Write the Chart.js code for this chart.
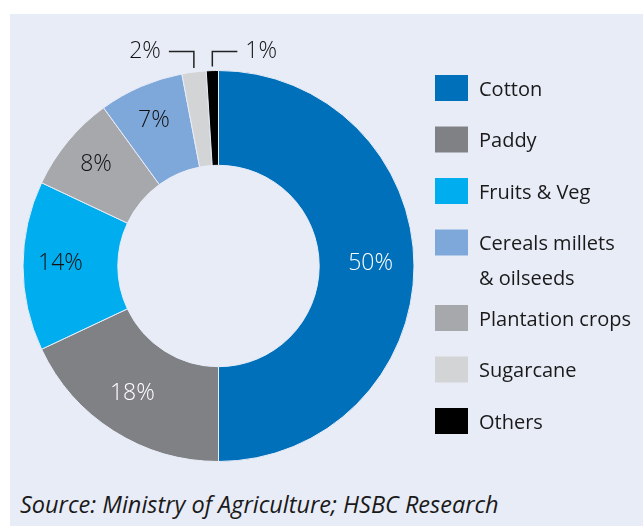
<!DOCTYPE html>
<html>
<head>
<meta charset="utf-8">
<script src="https://cdn.jsdelivr.net/npm/chart.js@4"></script>
<style>
  body { margin: 0; background: #fff; }
  #panel { position: absolute; left: 10px; top: 14px; width: 633px; height: 512px; background: #e8ecf7; }
  #wrap { position: absolute; left: 0; top: 0; width: 633px; height: 470px; }
  #source { position: absolute; left: 10px; top: 474px; font: italic 400 23.5px "Open Sans", sans-serif; color: #1a1a1a; }
</style>
</head>
<body>
<div id="panel">
  <div id="wrap"><canvas id="crops"></canvas></div>
  <div id="source">Source: Ministry of Agriculture; HSBC Research</div>
</div>
<script>
// slices, clockwise from 12 o'clock
const crops = ["Cotton", "Paddy", "Fruits & Veg", "Plantation crops", "Cereals millets & oilseeds", "Sugarcane", "Others"];
const shares = [50, 18, 14, 8, 7, 2, 1];
const colours = ["#0070ba", "#808184", "#00aeef", "#a7a8ab", "#7fa8da", "#d3d4d6", "#000000"];
const labelColours = ["#ffffff", "#ffffff", "#111111", "#111111", "#111111", "#111111", "#111111"];
// legend as printed
const legendOrder = ["Cotton", "Paddy", "Fruits & Veg", "Cereals millets & oilseeds", "Plantation crops", "Sugarcane", "Others"];
const legendText = [["Cotton"], ["Paddy"], ["Fruits & Veg"], ["Cereals millets", "& oilseeds"], ["Plantation crops"], ["Sugarcane"], ["Others"]];

const FONT = '"Open Sans", sans-serif';

const sliceLabels = {
  id: "sliceLabels",
  afterDatasetsDraw(chart) {
    const ctx = chart.ctx;
    const arcs = chart.getDatasetMeta(0).data;
    const small = arcs.map((a, i) => i).filter(i => shares[i] < 5);
    ctx.save();
    ctx.font = "300 23px " + FONT;
    ctx.textBaseline = "middle";
    arcs.forEach((arc, i) => {
      const p = arc.getProps(["x", "y", "startAngle", "endAngle", "innerRadius", "outerRadius"], true);
      const mid = (p.startAngle + p.endAngle) / 2;
      const text = shares[i] + "%";
      if (shares[i] >= 5) {
        const r = (p.innerRadius + p.outerRadius) / 2 + 7;
        ctx.fillStyle = labelColours[i];
        ctx.textAlign = "center";
        ctx.fillText(text, p.x + Math.cos(mid) * r - 3, p.y + Math.sin(mid) * r - 3);
      } else {
        const dir = i === small[small.length - 1] ? 1 : -1;
        const sx = p.x + Math.cos(mid) * (p.outerRadius + 1);
        const sy = p.y + Math.sin(mid) * (p.outerRadius + 1);
        const ty = p.y - p.outerRadius - 19;
        const ex = sx + dir * 25;
        ctx.strokeStyle = "#222";
        ctx.lineWidth = 1.5;
        ctx.beginPath();
        ctx.moveTo(sx, sy - 3);
        ctx.lineTo(sx, ty);
        ctx.lineTo(ex, ty);
        ctx.stroke();
        ctx.fillStyle = "#111";
        ctx.textAlign = dir > 0 ? "left" : "right";
        ctx.fillText(text, ex + dir * 8, ty);
      }
    });
    ctx.restore();
  }
};

const sideLegend = {
  id: "sideLegend",
  afterDraw(chart) {
    const ctx = chart.ctx;
    ctx.save();
    ctx.font = "20px " + FONT;
    ctx.textBaseline = "middle";
    ctx.textAlign = "left";
    let y = 74;
    legendOrder.forEach((name, k) => {
      const i = crops.indexOf(name);
      ctx.fillStyle = colours[i];
      ctx.fillRect(425, y - 13, 33, 26);
      ctx.fillStyle = "#1a1a1a";
      legendText[k].forEach((line, j) => ctx.fillText(line, 469, y + 2 + j * 35));
      y += 51.5 + (legendText[k].length - 1) * 24;
    });
    ctx.restore();
  }
};

new Chart(document.getElementById("crops"), {
  type: "doughnut",
  data: {
    labels: crops,
    datasets: [{
      data: shares,
      backgroundColor: colours,
      borderColor: "#e8ecf7",
      borderWidth: 1
    }]
  },
  options: {
    responsive: true,
    maintainAspectRatio: false,
    animation: false,
    cutout: "51.5%",
    layout: { padding: { left: 12, top: 56, right: 228, bottom: 22 } },
    plugins: {
      legend: { display: false },
      tooltip: { enabled: false }
    }
  },
  plugins: [sliceLabels, sideLegend]
});
</script>
</body>
</html>
